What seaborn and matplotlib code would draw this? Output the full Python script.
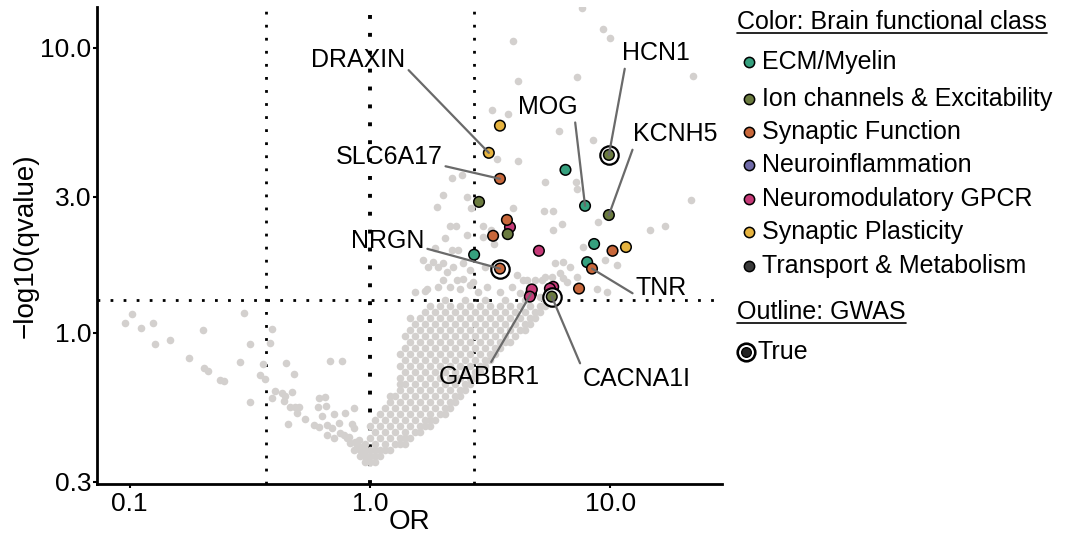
import numpy as np
import pandas as pd
import seaborn as sns
import matplotlib.pyplot as plt

# highlighted genes: OR, -log10(q), class, GWAS hit, label
hl_or = [3.12, 3.47, 11.6, 3.47, 3.71, 3.25, 10.2, 3.47, 8.38, 7.4,
         6.5, 7.84, 8.55, 2.71, 8.0, 9.85, 2.84, 9.85, 3.74, 5.7,
         3.82, 5.04, 4.67, 4.71, 4.62, 5.78, 5.60]
hl_mlq = [4.28, 5.33, 2.00, 3.47, 2.49, 2.19, 1.94, 1.68, 1.68, 1.43,
          3.73, 2.79, 2.05, 1.88, 1.77, 4.21, 2.88, 2.59, 2.22, 1.34,
          2.35, 1.94, 1.37, 1.42, 1.34, 1.45, 1.43]
hl_cls = ["Synaptic Plasticity"] * 3 + ["Synaptic Function"] * 7 + ["ECM/Myelin"] * 5 \
    + ["Ion channels & Excitability"] * 5 + ["Neuromodulatory GPCR"] * 7
hl_gwas = [False] * 7 + [True] + [False] * 7 + [True] + [False] * 3 + [True] + [False] * 7
hl_label = ["DRAXIN", "", "", "SLC6A17", "", "", "", "NRGN", "TNR", "",
            "", "MOG", "", "", "", "HCN1", "", "KCNH5", "", "CACNA1I",
            "", "", "GABBR1", "", "", "", ""]

classes = ["ECM/Myelin", "Ion channels & Excitability", "Synaptic Function",
           "Neuroinflammation", "Neuromodulatory GPCR", "Synaptic Plasticity",
           "Transport & Metabolism"]
class_colors = ["#36a07e", "#6b7b3f", "#c8673a", "#6f6aa8", "#c63a78", "#e6b33f", "#3a3a3a"]

# background genes, dense band rows: (-log10 q, [OR, ...])
band_rows = [
    (0.353, [0.953, 1.0, 1.049]),
    (0.370, [0.909, 0.953, 1.0, 1.049, 1.10]),
    (0.389, [0.909, 0.953, 1.0, 1.049, 1.10, 1.154, 1.211]),
    (0.408, [0.953, 1.049, 1.154, 1.270, 1.332, 1.398]),
    (0.428, [1.0, 1.10, 1.211, 1.332, 1.398, 1.466]),
    (0.450, [1.049, 1.154, 1.270, 1.398, 1.538, 1.614]),
    (0.472, [1.0, 1.10, 1.211, 1.332, 1.466, 1.614, 1.693, 1.776]),
    (0.495, [1.049, 1.154, 1.270, 1.398, 1.538, 1.693, 1.776, 1.863]),
    (0.520, [1.10, 1.211, 1.332, 1.466, 1.614, 1.776, 1.954, 2.050]),
    (0.545, [1.154, 1.270, 1.398, 1.538, 1.693, 1.863, 2.050, 2.151]),
    (0.573, [1.211, 1.332, 1.466, 1.614, 1.776, 1.954, 2.151, 2.256]),
    (0.601, [1.211, 1.270, 1.398, 1.538, 1.693, 1.863, 2.050, 2.256, 2.367]),
    (0.631, [1.332, 1.466, 1.614, 1.776, 1.954, 2.151, 2.367, 2.483]),
    (0.662, [1.332, 1.398, 1.538, 1.693, 1.863, 2.050, 2.256, 2.483, 2.605]),
    (0.695, [1.332, 1.466, 1.614, 1.776, 1.954, 2.151, 2.367, 2.605, 2.733]),
    (0.730, [1.398, 1.538, 1.693, 1.863, 2.050, 2.256, 2.483, 2.733, 2.867]),
    (0.766, [1.332, 1.466, 1.614, 1.776, 1.954, 2.151, 2.367, 2.605, 2.867, 3.008]),
    (0.804, [1.398, 1.538, 1.693, 1.863, 2.050, 2.256, 2.483, 2.733, 3.008, 3.156]),
    (0.844, [1.332, 1.466, 1.614, 1.776, 1.954, 2.151, 2.367, 2.605, 2.867, 3.156, 3.310]),
    (0.886, [1.398, 1.538, 1.693, 1.863, 2.050, 2.256, 2.483, 2.733, 3.008, 3.310, 3.473]),
    (0.930, [1.466, 1.614, 1.776, 1.954, 2.151, 2.367, 2.605, 2.867, 3.156, 3.473, 3.643, 3.822]),
    (0.976, [1.398, 1.538, 1.693, 1.863, 2.050, 2.256, 2.483, 2.733, 3.008, 3.310, 3.643, 4.010]),
    (1.024, [1.466, 1.614, 1.776, 1.954, 2.151, 2.367, 2.605, 2.867, 3.156, 3.473, 3.822, 4.206, 4.413]),
    (1.075, [1.538, 1.693, 1.863, 2.050, 2.256, 2.483, 2.733, 3.008, 3.310, 3.643, 4.010, 4.413, 4.629]),
    (1.129, [1.466, 1.614, 1.776, 1.954, 2.151, 2.367, 2.605, 2.867, 3.156, 3.473, 3.822, 4.206, 4.629, 4.857]),
    (1.185, [1.693, 1.863, 2.050, 2.256, 2.483, 2.733, 3.008, 3.310, 3.643, 4.010, 4.413, 4.857, 5.095]),
    (1.244, [1.776, 1.954, 2.151, 2.367, 2.605, 2.867, 3.156, 3.473, 3.822, 4.206, 4.629, 5.095, 5.345]),
    (1.306, [2.050, 2.483, 3.008, 3.643, 4.413, 5.345]),
]

# background genes, scattered (OR, -log10 q)
upper_pts = [
    (7.6, 13.8), (9.31, 11.66), (9.95, 10.84), (3.93, 10.58), (4.12, 7.66), (7.26, 7.91),
    (22.0, 7.97), (3.22, 6.06), (3.75, 5.87), (6.11, 5.11), (8.46, 4.75), (4.12, 4.01),
    (3.37, 4.08), (2.19, 3.50), (2.41, 3.58), (5.34, 3.39), (7.19, 3.39), (7.26, 3.20),
    (21.6, 2.93), (2.01, 3.05), (2.53, 3.00), (1.90, 2.77), (2.63, 2.75), (3.93, 2.75),
    (5.29, 2.68), (5.77, 2.68), (6.29, 2.41), (8.87, 2.45), (14.6, 2.30), (16.9, 2.37),
    (2.15, 2.37), (2.28, 2.37), (2.95, 2.37), (5.77, 2.30), (2.05, 2.15), (2.53, 2.21),
    (3.28, 2.05), (7.69, 2.00), (1.86, 1.99), (2.19, 1.96), (2.32, 1.96), (10.6, 1.73),
    (9.49, 1.80), (5.88, 1.76), (6.34, 1.77), (1.66, 1.80), (1.83, 1.77), (2.01, 1.76),
    (2.21, 1.70), (2.44, 1.76), (2.60, 1.66), (3.01, 1.70), (4.08, 1.60), (4.50, 1.53),
    (5.19, 1.53), (5.71, 1.57), (6.17, 1.62), (6.59, 1.51), (8.78, 1.42), (9.67, 1.39),
    (1.73, 1.42), (1.92, 1.45), (2.30, 1.53), (2.68, 1.51), (3.07, 1.45), (3.47, 1.39),
    (3.89, 1.45), (4.21, 1.38), (5.09, 1.34), (1.74, 1.70), (1.92, 1.70), (2.09, 1.64),
    (2.44, 1.55), (2.01, 1.53), (2.15, 1.45), (2.37, 1.42), (2.60, 1.47), (2.81, 1.39),
    (4.33, 1.53), (4.86, 1.53), (5.34, 1.57), (6.34, 1.56), (7.26, 1.57), (6.78, 1.70),
    (3.18, 2.30), (2.95, 2.17), (1.54, 1.39), (1.69, 1.40),
]
left_pts = [
    (0.102, 1.166), (0.0958, 1.084), (0.1116, 1.041), (0.125, 1.084), (0.128, 0.915),
    (0.147, 0.945), (0.202, 1.024), (0.299, 1.175), (0.317, 0.915), (0.177, 0.817),
    (0.204, 0.754), (0.212, 0.736), (0.238, 0.684), (0.247, 0.679), (0.288, 0.791),
    (0.317, 0.573), (0.349, 0.712), (0.359, 0.778), (0.366, 0.690), (0.391, 1.033),
    (0.384, 0.922), (0.447, 0.785), (0.483, 0.718), (0.403, 0.626), (0.391, 0.591),
    (0.431, 0.616), (0.443, 0.601), (0.439, 0.577), (0.474, 0.621), (0.465, 0.550),
    (0.488, 0.550), (0.507, 0.550), (0.497, 0.524), (0.456, 0.480), (0.537, 0.499),
    (0.614, 0.591), (0.650, 0.596), (0.608, 0.550), (0.656, 0.555), (0.682, 0.798),
    (0.765, 0.798), (0.632, 0.511), (0.708, 0.520), (0.787, 0.524), (0.858, 0.545),
    (0.585, 0.476), (0.614, 0.468), (0.662, 0.476), (0.695, 0.464), (0.743, 0.483),
    (0.842, 0.480), (0.858, 0.464), (0.662, 0.439), (0.708, 0.428), (0.750, 0.446),
    (0.802, 0.428), (0.826, 0.411), (0.867, 0.415), (0.909, 0.398), (0.858, 0.389),
    (0.944, 0.379), (0.972, 0.363), (0.78, 0.44), (0.82, 0.43), (0.90, 0.42),
    (0.93, 0.39), (0.88, 0.40), (0.95, 0.37),
]

q_cut = 0.05
lnor_cut = 1.0

grey_or = [o for m, row in band_rows for o in row] + [p[0] for p in upper_pts + left_pts]
grey_mlq = [m for m, row in band_rows for o in row] + [p[1] for p in upper_pts + left_pts]

hl = pd.DataFrame({"OR": hl_or, "mlq": hl_mlq, "cls": hl_cls, "gwas": hl_gwas, "label": hl_label})
draw_order = ["Neuromodulatory GPCR", "ECM/Myelin", "Synaptic Function",
              "Ion channels & Excitability", "Synaptic Plasticity"]
hl["rank"] = hl["cls"].map({c: i for i, c in enumerate(draw_order)})
hl = hl.sort_values("rank", kind="stable")
pal = dict(zip(classes, class_colors))

sns.set_theme(style="ticks")
plt.rcParams["font.family"] = ["Liberation Sans", "DejaVu Sans"]
plt.rcParams["text.color"] = "black"
plt.rcParams["axes.labelcolor"] = "black"

W, H = 1066, 536
fig = plt.figure(figsize=(W / 100, H / 100), dpi=100)
ax = fig.add_axes([97 / W, 1 - 484 / H, 625 / W, 477 / H])

sns.scatterplot(x=grey_or, y=grey_mlq, color="#d3d0ce", s=30, linewidth=0, ax=ax, zorder=2)

ax.axvline(np.exp(-lnor_cut), color="black", lw=2.0, ls=(0, (1, 3.7)), zorder=1)
ax.axvline(np.exp(lnor_cut), color="black", lw=2.0, ls=(0, (1, 3.7)), zorder=1)
ax.axvline(1.0, color="black", lw=2.8, ls=(0, (1, 3.6)), zorder=1)
ax.axhline(-np.log10(q_cut), color="black", lw=2.0, ls=(0, (1, 3.7)), zorder=1)

plain = hl[~hl["gwas"]]
gw = hl[hl["gwas"]]
sns.scatterplot(data=plain, x="OR", y="mlq", hue="cls", palette=pal, s=58,
                edgecolor="black", linewidth=1.1, legend=False, ax=ax, zorder=3)
ax.scatter(gw["OR"], gw["mlq"], s=175, facecolor="white", edgecolor="black", linewidth=1.6, zorder=4)
sns.scatterplot(data=gw, x="OR", y="mlq", hue="cls", palette=pal, s=58,
                edgecolor="black", linewidth=1.1, legend=False, ax=ax, zorder=5)

# labels: offset (points) and where the leader line leaves the text
label_pos = {
    "DRAXIN": ((-94, 67), (0.99, 0.25)),
    "SLC6A17": ((-80, 16), (0.93, 0.2)),
    "NRGN": ((-81, 20), (0.97, 0.23)),
    "HCN1": ((34, 73), (0.05, 0.05)),
    "MOG": ((-27, 71), (0.95, 0.15)),
    "KCNH5": ((48, 58), (0.02, 0.15)),
    "TNR": ((50, -14), (0.0, 0.2)),
    "GABBR1": ((-30, -60), (0.5, 1.0)),
    "CACNA1I": ((61, -59), (0.0, 0.9)),
}
for _, r in hl[hl["label"] != ""].iterrows():
    off, rel = label_pos[r["label"]]
    ax.annotate(r["label"], (r["OR"], r["mlq"]), xytext=off, textcoords="offset points",
                ha="center", va="center", fontsize=18, color="black", zorder=6,
                arrowprops=dict(arrowstyle="-", color="#6a6a6a", lw=1.6,
                                shrinkA=0, shrinkB=0, relpos=rel))

ax.set_xscale("log")
ax.set_yscale("log")
ax.set_xlim(0.0732, 29.1)
ax.set_ylim(0.295, 13.9)
ax.set_xticks([0.1, 1, 10])
ax.set_xticklabels(["0.1", "1.0", "10.0"])
ax.set_yticks([0.3, 1, 3, 10])
ax.set_yticklabels(["0.3", "1.0", "3.0", "10.0"])
ax.minorticks_off()
ax.tick_params(labelsize=19, length=3, width=1.5, color="black", labelcolor="black")
ax.tick_params(axis="y", pad=1)
ax.tick_params(axis="x", pad=3)
for side in ["top", "right"]:
    ax.spines[side].set_visible(False)
for side in ["left", "bottom"]:
    ax.spines[side].set_linewidth(2.0)
    ax.spines[side].set_color("black")
ax.set_xlabel("OR", fontsize=20, labelpad=-5, color="black")
ax.set_ylabel("\u2212log10(qvalue)", fontsize=20, labelpad=1, color="black")

# legend drawn by hand in pixel coordinates
lg = fig.add_axes([0, 0, 1, 1], zorder=10)
lg.set_xlim(0, W)
lg.set_ylim(H, 0)
lg.axis("off")
titles = [lg.text(737, 22, "Color: Brain functional class", fontsize=18, va="center", ha="left", color="black"),
          lg.text(737, 312, "Outline: GWAS", fontsize=18, va="center", ha="left", color="black")]
item_y = [62, 99, 132, 165, 199, 232, 266]
for c, col, yy in zip(classes, class_colors, item_y):
    lg.scatter([749], [yy], s=55, facecolor=col, edgecolor="black", linewidth=1.1)
    lg.text(762, yy, c, fontsize=18, va="center", ha="left", color="black")
lg.scatter([746], [352], s=160, facecolor="white", edgecolor="black", linewidth=1.9)
lg.scatter([746], [352], s=48, facecolor="#222222", edgecolor="black", linewidth=1.0)
lg.text(757, 352, "True", fontsize=18, va="center", ha="left", color="black")

fig.canvas.draw()
rend = fig.canvas.get_renderer()
for t in titles:
    bb = t.get_window_extent(rend)
    yl = H - bb.y0 - 1
    lg.plot([bb.x0, bb.x1], [yl, yl], color="black", lw=1.2)

fig.savefig("out.png", dpi=100)
